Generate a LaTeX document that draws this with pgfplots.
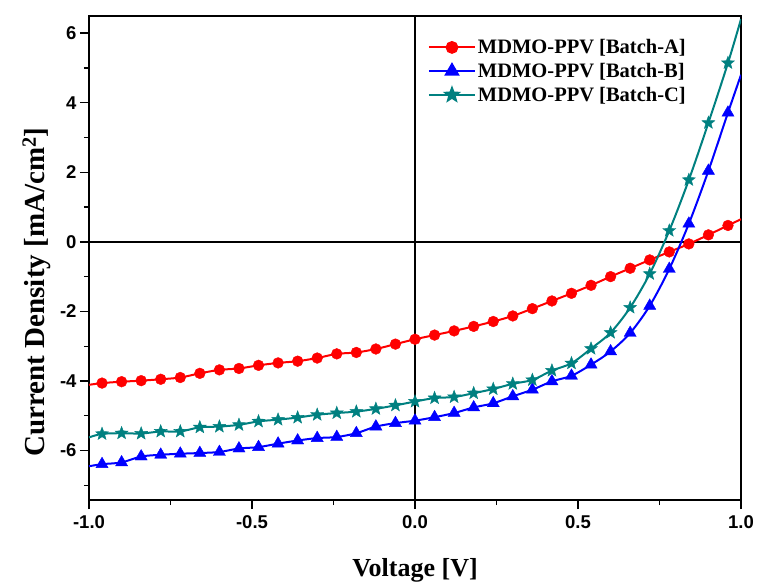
\documentclass[border=0pt]{standalone}
\usepackage{pgfplots}
\pgfplotsset{compat=1.18}
\usepackage{pgfplotstable}
\usepackage{fontspec}
\setmainfont{Liberation Serif}
\setsansfont{Liberation Sans}
\usetikzlibrary{plotmarks}
\definecolor{tealc}{RGB}{0,128,128}
\pgfdeclareplotmark{fstar}{%
  \pgfpathmoveto{\pgfpointpolar{90}{\pgfplotmarksize}}%
  \pgfpathlineto{\pgfpointpolar{126}{0.42\pgfplotmarksize}}%
  \pgfpathlineto{\pgfpointpolar{162}{\pgfplotmarksize}}%
  \pgfpathlineto{\pgfpointpolar{198}{0.42\pgfplotmarksize}}%
  \pgfpathlineto{\pgfpointpolar{234}{\pgfplotmarksize}}%
  \pgfpathlineto{\pgfpointpolar{270}{0.42\pgfplotmarksize}}%
  \pgfpathlineto{\pgfpointpolar{306}{\pgfplotmarksize}}%
  \pgfpathlineto{\pgfpointpolar{342}{0.42\pgfplotmarksize}}%
  \pgfpathlineto{\pgfpointpolar{18}{\pgfplotmarksize}}%
  \pgfpathlineto{\pgfpointpolar{54}{0.42\pgfplotmarksize}}%
  \pgfpathclose
  \pgfusepathqfillstroke}

\pgfplotstableread{
x y
-1.00 -4.11
-0.96 -4.06
-0.90 -4.02
-0.84 -3.99
-0.78 -3.95
-0.72 -3.90
-0.66 -3.78
-0.60 -3.68
-0.54 -3.64
-0.48 -3.55
-0.42 -3.48
-0.36 -3.43
-0.30 -3.34
-0.24 -3.22
-0.18 -3.18
-0.12 -3.08
-0.06 -2.94
0.00 -2.80
0.06 -2.68
0.12 -2.56
0.18 -2.43
0.24 -2.29
0.30 -2.13
0.36 -1.92
0.42 -1.70
0.48 -1.48
0.54 -1.25
0.60 -1.00
0.66 -0.76
0.72 -0.52
0.78 -0.29
0.84 -0.06
0.90 0.20
0.96 0.47
1.00 0.65
}\batchA

\pgfplotstableread{
x y
-1.00 -6.45
-0.96 -6.39
-0.90 -6.34
-0.84 -6.17
-0.78 -6.12
-0.72 -6.09
-0.66 -6.07
-0.60 -6.04
-0.54 -5.94
-0.48 -5.90
-0.42 -5.80
-0.36 -5.71
-0.30 -5.64
-0.24 -5.61
-0.18 -5.50
-0.12 -5.31
-0.06 -5.21
0.00 -5.14
0.06 -5.04
0.12 -4.92
0.18 -4.76
0.24 -4.64
0.30 -4.44
0.36 -4.25
0.42 -4.01
0.48 -3.85
0.54 -3.53
0.60 -3.15
0.66 -2.62
0.72 -1.84
0.78 -0.78
0.84 0.52
0.90 2.04
0.96 3.71
1.00 4.80
}\batchB

\pgfplotstableread{
x y
-1.00 -5.62
-0.96 -5.52
-0.90 -5.50
-0.84 -5.51
-0.78 -5.45
-0.72 -5.45
-0.66 -5.33
-0.60 -5.31
-0.54 -5.26
-0.48 -5.16
-0.42 -5.11
-0.36 -5.05
-0.30 -4.97
-0.24 -4.92
-0.18 -4.88
-0.12 -4.80
-0.06 -4.70
0.00 -4.59
0.06 -4.49
0.12 -4.46
0.18 -4.35
0.24 -4.23
0.30 -4.08
0.36 -3.97
0.42 -3.70
0.48 -3.49
0.54 -3.07
0.60 -2.61
0.66 -1.89
0.72 -0.92
0.78 0.32
0.84 1.78
0.90 3.42
0.96 5.14
1.00 6.40
}\batchC

\begin{document}
\begin{tikzpicture}
\useasboundingbox (-89pt,-81pt) rectangle (668pt,500pt);
\begin{axis}[
  scale only axis,
  width=652pt, height=484pt,
  xmin=-1, xmax=1, ymin=-7.42, ymax=6.49,
  axis line style={line width=1.4pt},
  xtick={-1,-0.5,0,0.5,1},
  minor xtick={-0.75,-0.25,0.25,0.75},
  ytick={-6,-4,-2,0,2,4,6},
  minor ytick={-7,-5,-3,-1,1,3,5},
  tick align=outside,
  xtick pos=bottom, ytick pos=left,
  major tick length=9pt, minor tick length=5pt,
  tick style={line width=1.4pt, black},
  /pgf/number format/assume math mode=true,
  ticklabel style={font=\fontsize{18.5}{20}\sffamily\bfseries},
  xticklabel style={yshift=-3pt, /pgf/number format/.cd, fixed, fixed zerofill, precision=1},
  yticklabel style={/pgf/number format/.cd, fixed, precision=0},
  xlabel={\fontsize{26}{28}\selectfont\bfseries Voltage [V]},
  ylabel={\fontsize{29}{31}\selectfont\bfseries Current Density [mA/cm$^{\mathbf{2}}$]},
  xlabel style={yshift=-23pt},
  ylabel style={at={(ticklabel cs:0.43)}, yshift=2pt},
  legend style={draw=none, fill=none, at={(rel axis cs:0.515,0.96)}, anchor=north west,
    font=\fontsize{20.5}{22}\selectfont\bfseries, row sep=4pt,
    /tikz/every even column/.append style={column sep=0pt}},
  legend cell align=left,
  legend image code/.code={\draw[mark repeat=2,mark phase=2,#1] plot coordinates {(0pt,0pt) (23pt,0pt) (46pt,0pt)};},
]
\draw[black, line width=1.4pt] (axis cs:0,-7.42) -- (axis cs:0,6.49);
\draw[black, line width=1.4pt] (axis cs:-1,0) -- (axis cs:1,0);

\addplot[red, line width=2pt, smooth, forget plot] table {\batchA};
\addplot[blue, line width=2pt, smooth, forget plot] table {\batchB};
\addplot[tealc, line width=2pt, smooth, forget plot] table {\batchC};

\addplot[red, only marks, mark=*, mark size=5.4pt, forget plot] table[skip coords between index={0}{1}, skip coords between index={34}{35}] {\batchA};
\addplot[blue, only marks, mark=triangle*, mark size=7pt, forget plot] table[skip coords between index={0}{1}, skip coords between index={34}{35}] {\batchB};
\addplot[tealc, only marks, mark=fstar, mark size=6.8pt, forget plot] table[skip coords between index={0}{1}, skip coords between index={34}{35}] {\batchC};

\addlegendimage{red, line width=2pt, mark=*, mark size=5.4pt}
\addlegendentry{MDMO-PPV [Batch-A]}
\addlegendimage{blue, line width=2pt, mark=triangle*, mark size=7pt}
\addlegendentry{MDMO-PPV [Batch-B]}
\addlegendimage{tealc, line width=2pt, mark=fstar, mark size=6.8pt}
\addlegendentry{MDMO-PPV [Batch-C]}
\end{axis}
\end{tikzpicture}
\end{document}
